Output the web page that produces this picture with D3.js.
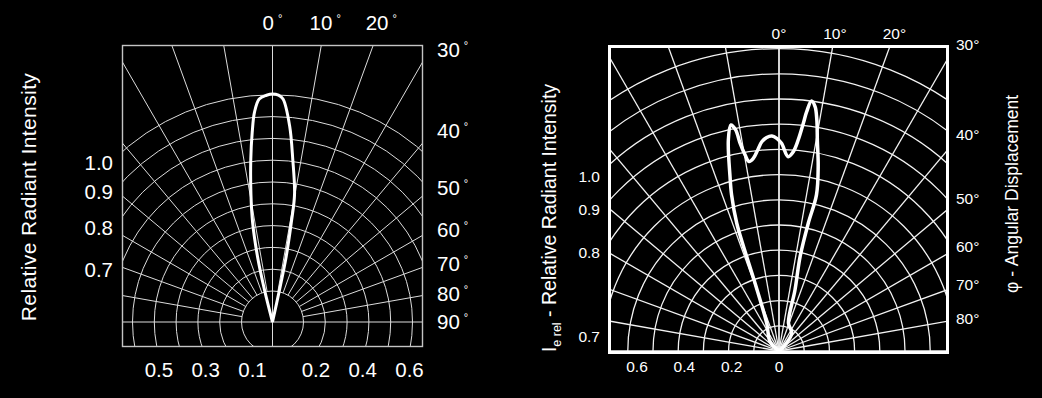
<!DOCTYPE html>
<html>
<head>
<meta charset="utf-8">
<script src="https://cdn.jsdelivr.net/npm/d3@7"></script>
<style>
  body { margin: 0; background: #000; }
  svg text { font-family: "Liberation Sans", Arial, sans-serif; fill: #fff; }
</style>
</head>
<body>
<svg id="viz_area" width="1042" height="398"></svg>
<script>
// ---- data ----
// left plot: narrow beam (angle in degrees, relative intensity)
const leftAngles    = [-15, -14, -12.9, -11.3, -9.6, -7.6, -6.1, -4.9, -3.4, -1.5, 0, 1.5, 2.7, 5.0, 7.1, 9.8, 10.7, 11.8, 12.3, 13];
const leftIntensity = [0, 0.145, 0.295, 0.445, 0.567, 0.72, 0.837, 0.924, 0.98, 0.995, 1.0, 0.995, 0.979, 0.863, 0.719, 0.568, 0.444, 0.294, 0.144, 0];

// right plot: twin-peak beam
const rightAngles    = [-60, -44, -23.9, -19.5, -18.9, -18.3, -16.9, -15.7, -13.5, -12.0, -11.1, -10.6, -9.8, -9.0, -7.6, -6.05, -4.7, -3.3, -1.9, -0.6, 0.7, 2.7, 4.1, 5.2, 6.1, 6.6, 7.4, 8.4, 9.3, 10.3, 12.0, 13.5, 12.9, 12.6, 14.7, 18.7, 35.7, 45, 60];
const rightIntensity = [0, 0.051, 0.12, 0.28, 0.396, 0.534, 0.647, 0.718, 0.861, 0.917, 0.894, 0.838, 0.789, 0.761, 0.771, 0.802, 0.833, 0.849, 0.854, 0.844, 0.824, 0.772, 0.793, 0.841, 0.909, 0.956, 1.0, 0.98, 0.929, 0.851, 0.748, 0.637, 0.52, 0.383, 0.25, 0.117, 0.087, 0.034, 0];

const gridAngles = d3.range(-80, 81, 10);

const leftTopTicks = [0, 10, 20];
const leftSideTicks = [30, 40, 50, 60, 70, 80, 90];
const leftIntensityTicks = [1.0, 0.9, 0.8, 0.7];
const leftBottomTicksL = [0.5, 0.3, 0.1];
const leftBottomTicksR = [0.2, 0.4, 0.6];

const rightTopTicks = [0, 10, 20];
const rightSideTicks = [30, 40, 50, 60, 70, 80];
const rightIntensityTicks = [1.0, 0.9, 0.8, 0.7];
const rightBottomTicks = [0.6, 0.4, 0.2, 0];

// ---- drawing ----
const svg = d3.select("#viz_area");
const rad = d3.scaleLinear().domain([0, 180]).range([0, Math.PI]);

const pt = (c, deg, r) => [c.cx + r * Math.sin(rad(deg)), c.cy - r * Math.cos(rad(deg))];

function drawPolar(c) {
    const g = svg.append("g");

    g.append("clipPath").attr("id", c.id + "-clip")
        .append("rect")
        .attr("x", c.x0).attr("y", c.y0)
        .attr("width", c.x1 - c.x0).attr("height", c.y1 - c.y0);

    const grid = g.append("g")
        .attr("clip-path", "url(#" + c.id + "-clip)")
        .attr("stroke", c.gridColor)
        .attr("stroke-width", c.gridWidth)
        .attr("fill", "none");

    // rings
    grid.selectAll("circle")
        .data(c.rings)
        .enter()
        .append("circle")
        .attr("cx", c.cx).attr("cy", c.cy)
        .attr("r", d => d);

    // spokes
    grid.selectAll("line.spoke")
        .data(gridAngles)
        .enter()
        .append("line")
        .attr("class", "spoke")
        .attr("x1", d => pt(c, d, c.spokeStart)[0])
        .attr("y1", d => pt(c, d, c.spokeStart)[1])
        .attr("x2", d => pt(c, d, 800)[0])
        .attr("y2", d => pt(c, d, 800)[1]);

    // axis cross
    grid.append("line")
        .attr("x1", c.cx).attr("x2", c.cx)
        .attr("y1", c.y0).attr("y2", c.y1);
    grid.append("line")
        .attr("x1", c.x0).attr("x2", c.x1)
        .attr("y1", c.cy).attr("y2", c.cy);

    // frame
    g.append("rect")
        .attr("x", c.x0).attr("y", c.y0)
        .attr("width", c.x1 - c.x0).attr("height", c.y1 - c.y0)
        .attr("fill", "none")
        .attr("stroke", c.frameColor)
        .attr("stroke-width", c.frameWidth);

    // beam curve
    const line = d3.lineRadial()
        .angle(d => rad(d[0]))
        .radius(d => c.r(d[1]))
        .curve(d3.curveCatmullRom.alpha(0.5));

    g.append("path")
        .datum(d3.zip(c.angles, c.values))
        .attr("transform", "translate(" + c.cx + "," + c.cy + ")")
        .attr("d", line)
        .attr("fill", "none")
        .attr("stroke", "#fff")
        .attr("stroke-width", c.curveWidth)
        .attr("stroke-linejoin", "round");

    return g;
}

function degLabel(sel, txt, small) {
    if (small) {
        sel.append("tspan").text(txt);
        sel.append("tspan").text("°")
            .attr("font-size", 11).attr("dx", 4).attr("dy", -8);
    } else {
        sel.text(txt + "°");
    }
}

// ---------- left chart ----------
const L = {
    id: "left",
    x0: 122.5, y0: 45.5, x1: 422.5, y1: 346.5,
    cx: 272.5, cy: 322,
    r: d3.scaleLinear().domain([0, 1]).range([0, 228]),
    rings: d3.range(10).map(k => 31 + k * 21.8),
    spokeStart: 31,
    gridColor: "#dcdcdc", gridWidth: 1,
    frameColor: "#c4c4c4", frameWidth: 1.4,
    curveWidth: 3,
    angles: leftAngles, values: leftIntensity
};
const gl = drawPolar(L);

gl.selectAll("text.top")
    .data(leftTopTicks)
    .enter()
    .append("text")
    .attr("class", "top")
    .attr("x", d => L.cx + (L.cy - 23) * Math.tan(rad(d)))
    .attr("y", 23)
    .attr("dy", "0.35em")
    .attr("text-anchor", "middle")
    .attr("font-size", 20.5)
    .each(function(d) { degLabel(d3.select(this), d, true); });

gl.selectAll("text.side")
    .data(leftSideTicks)
    .enter()
    .append("text")
    .attr("class", "side")
    .attr("x", 437)
    .attr("y", d => Math.max(50, L.cy - (L.x1 - L.cx + 10) / Math.tan(rad(d))))
    .attr("dy", "0.35em")
    .attr("font-size", 20.5)
    .each(function(d) { degLabel(d3.select(this), d, true); });

const leftIntY = d3.scaleLinear().domain([0.7, 0.8, 0.9, 1.0]).range([270, 228, 192, 163]);
gl.selectAll("text.int")
    .data(leftIntensityTicks)
    .enter()
    .append("text")
    .attr("class", "int")
    .attr("x", 113)
    .attr("y", d => leftIntY(d))
    .attr("dy", "0.35em")
    .attr("text-anchor", "end")
    .attr("font-size", 20.5)
    .text(d => d.toFixed(1));

const leftBotX = d3.scaleLinear().domain([0.1, 0.6]).range([20, 137]);
gl.selectAll("text.botl")
    .data(leftBottomTicksL)
    .enter()
    .append("text")
    .attr("x", d => L.cx - leftBotX(d))
    .attr("y", 370)
    .attr("dy", "0.35em")
    .attr("text-anchor", "middle")
    .attr("font-size", 20.5)
    .text(d => d.toFixed(1));
gl.selectAll("text.botr")
    .data(leftBottomTicksR)
    .enter()
    .append("text")
    .attr("x", d => L.cx + leftBotX(d))
    .attr("y", 370)
    .attr("dy", "0.35em")
    .attr("text-anchor", "middle")
    .attr("font-size", 20.5)
    .text(d => d.toFixed(1));

svg.append("text")
    .attr("transform", "translate(29,197) rotate(-90)")
    .attr("dy", "0.35em")
    .attr("text-anchor", "middle")
    .attr("font-size", 21)
    .attr("letter-spacing", 0.4)
    .text("Relative Radiant Intensity");

// ---------- right chart ----------
const R = {
    id: "right",
    x0: 609.5, y0: 46.5, x1: 947.5, y1: 352.5,
    cx: 779, cy: 351,
    r: d3.scaleLinear().domain([0, 1]).range([0, 252]),
    rings: [],
    spokeStart: 0,
    gridColor: "#f2f2f2", gridWidth: 1.3,
    frameColor: "#fff", frameWidth: 3,
    curveWidth: 3.5,
    angles: rightAngles, values: rightIntensity
};
R.rings = d3.range(1, 13).map(k => R.r(k / 10));
const gr = drawPolar(R);

gr.selectAll("text.top")
    .data(rightTopTicks)
    .enter()
    .append("text")
    .attr("x", d => R.cx + (R.cy - 34) * Math.tan(rad(d)))
    .attr("y", 34)
    .attr("dy", "0.35em")
    .attr("text-anchor", "middle")
    .attr("font-size", 15.5)
    .text(d => d + "°");

gr.selectAll("text.side")
    .data(rightSideTicks)
    .enter()
    .append("text")
    .attr("x", 956)
    .attr("y", d => Math.max(45, R.cy - (R.x1 - R.cx + 13) / Math.tan(rad(d))))
    .attr("dy", "0.35em")
    .attr("font-size", 15.5)
    .text(d => d + "°");

const rightIntY = d3.scaleLinear().domain([0.7, 0.8, 0.9, 1.0]).range([336.7, 253, 210, 176.7]);
gr.selectAll("text.int")
    .data(rightIntensityTicks)
    .enter()
    .append("text")
    .attr("x", 600)
    .attr("y", d => rightIntY(d))
    .attr("dy", "0.35em")
    .attr("text-anchor", "end")
    .attr("font-size", 15.5)
    .text(d => d.toFixed(1));

const rightBotX = d3.scaleLinear().domain([0, 0.6]).range([0, 142]);
gr.selectAll("text.bot")
    .data(rightBottomTicks)
    .enter()
    .append("text")
    .attr("x", d => R.cx - rightBotX(d))
    .attr("y", 367)
    .attr("dy", "0.35em")
    .attr("text-anchor", "middle")
    .attr("font-size", 15.5)
    .text(d => d === 0 ? "0" : d.toFixed(1));

const yt = svg.append("text")
    .attr("transform", "translate(549,218) rotate(-90)")
    .attr("dy", "0.35em")
    .attr("text-anchor", "middle")
    .attr("font-size", 19.5);
yt.append("tspan").text("I");
yt.append("tspan").text("e rel").attr("font-size", 12.5).attr("dy", 5);
yt.append("tspan").text(" - Relative Radiant Intensity").attr("dy", -5);

svg.append("text")
    .attr("transform", "translate(1012,194) rotate(-90)")
    .attr("dy", "0.35em")
    .attr("text-anchor", "middle")
    .attr("font-size", 17.5)
    .text("φ - Angular Displacement");
</script>
</body>
</html>
